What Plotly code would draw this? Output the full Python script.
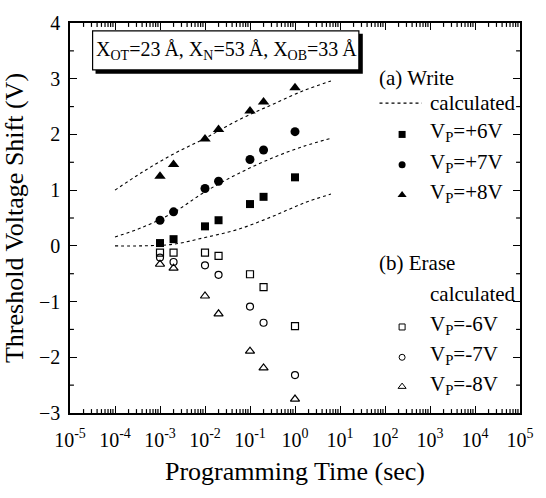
import plotly.graph_objects as go

# ---- measured data ----
t_meas = [1e-3, 2e-3, 1e-2, 2e-2, 1e-1, 2e-1, 1e0]
w6 = [0.05, 0.12, 0.35, 0.46, 0.75, 0.88, 1.23]
w7 = [0.46, 0.61, 1.03, 1.16, 1.55, 1.72, 2.05]
w8 = [1.25, 1.46, 1.92, 2.09, 2.42, 2.58, 2.84]
e6 = [-0.12, -0.12, -0.12, -0.18, -0.51, -0.74, -1.44]
e7 = [-0.21, -0.29, -0.35, -0.52, -1.09, -1.38, -2.32]
e8 = [-0.33, -0.40, -0.90, -1.22, -1.89, -2.19, -2.75]

# ---- calculated (write) ----
t_calc = [1e-4, 4e-4, 2e-3, 1e-2, 5.6e-2, 0.32, 1.6, 6.3]
c6 = [0.0, 0.0, 0.03, 0.15, 0.30, 0.53, 0.77, 0.93]
c7 = [0.16, 0.33, 0.60, 0.97, 1.30, 1.58, 1.79, 1.93]
c8 = [1.00, 1.32, 1.65, 1.93, 2.26, 2.54, 2.79, 2.96]

x_tickvals = [1e-5, 1e-4, 1e-3, 1e-2, 1e-1, 1e0, 1e1, 1e2, 1e3, 1e4, 1e5]
x_ticktext = ["10<sup>-5</sup>", "10<sup>-4</sup>", "10<sup>-3</sup>", "10<sup>-2</sup>",
              "10<sup>-1</sup>", "10<sup>0</sup>", "10<sup>1</sup>", "10<sup>2</sup>",
              "10<sup>3</sup>", "10<sup>4</sup>", "10<sup>5</sup>"]
y_tickvals = [-3, -2, -1, 0, 1, 2, 3, 4]

write_labels = ["V<sub>P</sub>=+6V", "V<sub>P</sub>=+7V", "V<sub>P</sub>=+8V"]
erase_labels = ["V<sub>P</sub>=-6V", "V<sub>P</sub>=-7V", "V<sub>P</sub>=-8V"]

FONT = "Liberation Serif"
W, H = 546, 498
L = 70; R = 528; T = 14; B = 413
def px(x): return (x - L) / (R - L)          # pixel -> paper x
def py(y): return (B - y) / (B - T)          # pixel -> paper y
def dx(x): return 10 ** ((x - L) / (R - L) * 10 - 5)   # pixel -> data x (log)
def dy(y): return 4 - (y - T) / (B - T) * 7            # pixel -> data y

fig = go.Figure()

for c in (c6, c7, c8):
    fig.add_trace(go.Scatter(x=t_calc, y=c, mode="lines", line=dict(color="black", width=1.1, dash="dot", shape="spline"),
                             showlegend=False, hoverinfo="skip"))

fill_sym = ["square", "circle", "triangle-up"]
open_sym = ["square-open", "circle-open", "triangle-up-open"]
fill_size = [8, 9, 10]
open_size = [7, 7, 8]
for s, sym, sz in zip((w6, w7, w8), fill_sym, fill_size):
    fig.add_trace(go.Scatter(x=t_meas, y=s, mode="markers", marker=dict(symbol=sym, size=sz, color="black"),
                             showlegend=False))
for s, sym, sz in zip((e6, e7, e8), open_sym, open_size):
    fig.add_trace(go.Scatter(x=t_meas, y=s, mode="markers",
                             marker=dict(symbol=sym, size=sz, color="black", line=dict(width=1.2, color="black")),
                             showlegend=False))

# ---- manual legend ----
MX = 408
TX = 434
w_rows = [126, 157, 188]
e_rows = [323, 354, 384]
fig.add_trace(go.Scatter(x=[dx(385), dx(428)], y=[dy(96), dy(96)], mode="lines",
                         line=dict(color="black", width=1.1, dash="dot"), showlegend=False, hoverinfo="skip"))
for yy, sym, sz in zip(w_rows, fill_sym, [7, 7, 8]):
    fig.add_trace(go.Scatter(x=[dx(MX)], y=[dy(yy + 2)], mode="markers",
                             marker=dict(symbol=sym, size=sz, color="black"), showlegend=False, hoverinfo="skip"))
for yy, sym, sz in zip(e_rows, open_sym, [6, 6, 7]):
    fig.add_trace(go.Scatter(x=[dx(MX)], y=[dy(yy + 2)], mode="markers",
                             marker=dict(symbol=sym, size=sz, color="black", line=dict(width=1, color="black")),
                             showlegend=False, hoverinfo="skip"))

ann = []
def txt(x, y, s, size=21):
    ann.append(dict(x=px(x), y=py(y), xref="paper", yref="paper", text=s, showarrow=False, xanchor="left",
                    yanchor="middle", font=dict(family=FONT, size=size, color="black")))
txt(382, 70, "(a) Write")
txt(TX, 96, "calculated")
for yy, s in zip(w_rows, write_labels):
    txt(TX, yy, s)
txt(382, 260, "(b) Erase")
txt(TX, 291, "calculated")
for yy, s in zip(e_rows, erase_labels):
    txt(TX, yy, s)

# parameter box
ann.append(dict(x=px(229), y=py(42), xref="paper", yref="paper",
                text="X<sub>OT</sub>=23\u2009Å, X<sub>N</sub>=53\u2009Å, X<sub>OB</sub>=33\u2009Å",
                showarrow=False, xanchor="center", yanchor="middle",
                font=dict(family=FONT, size=20, color="black")))

shapes = [
    dict(type="rect", xref="paper", yref="paper", x0=px(96), x1=px(368), y0=py(66), y1=py(25),
         fillcolor="black", line=dict(width=0), layer="above"),
    dict(type="rect", xref="paper", yref="paper", x0=px(93), x1=px(364), y0=py(62), y1=py(22),
         fillcolor="white", line=dict(width=1.2, color="black"), layer="above"),
]

# minor ticks on all four sides (lengths as fractions of the plot area)
MINLEN_Y = 4 / (B - T)
MINLEN_X = 4 / (R - L)
for d in x_tickvals[:-1]:
    for m in range(2, 10):
        v = m * d
        shapes.append(dict(type="line", xref="x", yref="paper", x0=v, x1=v, y0=0, y1=MINLEN_Y,
                           line=dict(width=1.2, color="black")))
        shapes.append(dict(type="line", xref="x", yref="paper", x0=v, x1=v, y0=1, y1=1 - MINLEN_Y,
                           line=dict(width=1.2, color="black")))
for v in y_tickvals[:-1]:
    shapes.append(dict(type="line", xref="paper", yref="y", x0=0, x1=MINLEN_X, y0=v + 0.5, y1=v + 0.5,
                       line=dict(width=1.2, color="black")))
    shapes.append(dict(type="line", xref="paper", yref="y", x0=1, x1=1 - MINLEN_X, y0=v + 0.5, y1=v + 0.5,
                       line=dict(width=1.2, color="black")))

axis_common = dict(showline=True, linecolor="black", linewidth=1.5, mirror="allticks", ticks="inside",
                   ticklen=7, tickwidth=1.2, tickcolor="black", showgrid=False, zeroline=False,
                   tickfont=dict(family=FONT, size=20, color="black"))

fig.update_layout(
    width=W, height=H, autosize=False, margin=dict(l=L, r=W - R, t=T, b=H - B, pad=0),
    plot_bgcolor="white", paper_bgcolor="white", showlegend=False,
    xaxis=dict(type="log", range=[-5, 5], tickmode="array", tickvals=x_tickvals, ticktext=x_ticktext,
               ticklabelstandoff=8,
               title=dict(text="Programming Time (sec)", font=dict(family=FONT, size=26, color="black"), standoff=12),
               **axis_common),
    yaxis=dict(range=[-3, 4], tickmode="array", tickvals=y_tickvals, ticklabelstandoff=4,
               title=dict(text="Threshold Voltage Shift (V)", font=dict(family=FONT, size=26, color="black"), standoff=8),
               **axis_common),
    annotations=ann, shapes=shapes,
)

fig.write_html("out.html")
